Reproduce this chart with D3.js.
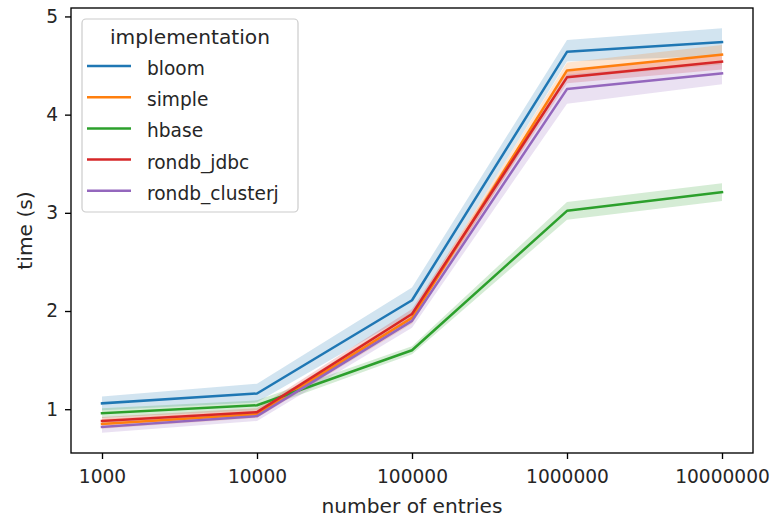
<!DOCTYPE html>
<html>
<head>
<meta charset="utf-8">
<script src="https://cdn.jsdelivr.net/npm/d3@7"></script>
<style>
  body { margin: 0; background: #fff; }
  text { font-family: "DejaVu Sans", sans-serif; fill: #262626; }
</style>
</head>
<body>
<script>
// chart data
var entries = ["1000", "10000", "100000", "1000000", "10000000"];
var implementations = ["bloom", "simple", "hbase", "rondb_jdbc", "rondb_clusterj"];

var bloomMean = [1.06, 1.16, 2.11, 4.64, 4.74];
var bloomLow  = [0.99, 1.07, 1.98, 4.54, 4.60];
var bloomHigh = [1.13, 1.26, 2.24, 4.76, 4.88];

var simpleMean = [0.85, 0.95, 1.93, 4.45, 4.61];
var simpleLow  = [0.80, 0.91, 1.87, 4.37, 4.51];
var simpleHigh = [0.90, 0.99, 1.99, 4.53, 4.71];

var hbaseMean = [0.96, 1.04, 1.60, 3.02, 3.21];
var hbaseLow  = [0.91, 0.99, 1.56, 2.93, 3.12];
var hbaseHigh = [1.01, 1.09, 1.64, 3.11, 3.30];

var jdbcMean = [0.88, 0.97, 1.97, 4.38, 4.54];
var jdbcLow  = [0.84, 0.93, 1.92, 4.32, 4.46];
var jdbcHigh = [0.92, 1.01, 2.02, 4.44, 4.62];

var clusterjMean = [0.82, 0.93, 1.90, 4.26, 4.42];
var clusterjLow  = [0.76, 0.88, 1.83, 4.11, 4.31];
var clusterjHigh = [0.88, 0.98, 1.97, 4.41, 4.54];

var yTicks = [1, 2, 3, 4, 5];

var colors = ["#1f77b4", "#ff7f0e", "#2ca02c", "#d62728", "#9467bd"];

var series = [
  { name: "bloom", mean: bloomMean, low: bloomLow, high: bloomHigh },
  { name: "simple", mean: simpleMean, low: simpleLow, high: simpleHigh },
  { name: "hbase", mean: hbaseMean, low: hbaseLow, high: hbaseHigh },
  { name: "rondb_jdbc", mean: jdbcMean, low: jdbcLow, high: jdbcHigh },
  { name: "rondb_clusterj", mean: clusterjMean, low: clusterjLow, high: clusterjHigh }
];

var w = 774, h = 520;
var margin = { top: 8, right: 21, bottom: 67, left: 71 };
var tickFont = 18.6;   // tick labels and legend entries
var labelFont = 20.2;  // axis labels and legend title

var svg = d3.select("body").append("svg")
    .attr("width", w)
    .attr("height", h);

var x = d3.scalePoint()
    .domain(entries)
    .range([margin.left, w - margin.right])
    .padding(0.2);

// 5% margins like matplotlib
var lo = d3.min(series, function(s) { return d3.min(s.low); });
var hi = d3.max(series, function(s) { return d3.max(s.high); });
var pad = (hi - lo) * 0.05;
var y = d3.scaleLinear()
    .domain([lo - pad, hi + pad])
    .range([h - margin.bottom, margin.top]);

// bands first (they sit under all lines)
var area = d3.area()
    .x(function(d) { return x(d.e); })
    .y0(function(d) { return y(d.lo); })
    .y1(function(d) { return y(d.hi); });

var line = d3.line()
    .x(function(d) { return x(d.e); })
    .y(function(d) { return y(d.v); });

series.forEach(function(s, i) {
    var pts = entries.map(function(e, j) {
        return { e: e, v: s.mean[j], lo: s.low[j], hi: s.high[j] };
    });
    s.pts = pts;
    svg.append("path")
        .datum(pts)
        .attr("d", area)
        .attr("fill", colors[i])
        .attr("fill-opacity", 0.2);
});

series.forEach(function(s, i) {
    svg.append("path")
        .datum(s.pts)
        .attr("d", line)
        .attr("fill", "none")
        .attr("stroke", colors[i])
        .attr("stroke-width", 2.5)
        .attr("stroke-linejoin", "round")
        .attr("stroke-linecap", "square");
});

// axes
var xAxis = svg.append("g")
    .attr("transform", "translate(0," + (h - margin.bottom) + ")")
    .call(d3.axisBottom(x).tickSizeInner(6).tickSizeOuter(0).tickPadding(11));
var yAxis = svg.append("g")
    .attr("transform", "translate(" + margin.left + ",0)")
    .call(d3.axisLeft(y).tickValues(yTicks).tickSizeInner(6).tickSizeOuter(0).tickPadding(7).tickFormat(d3.format("d")));

[xAxis, yAxis].forEach(function(a) {
    a.select(".domain").remove();
    a.selectAll(".tick line").attr("stroke", "#000").attr("stroke-width", 1.35);
    a.selectAll(".tick text")
        .style("font-family", "DejaVu Sans")
        .style("font-size", tickFont + "px")
        .attr("fill", "#262626");
});

// frame
svg.append("rect")
    .attr("x", margin.left)
    .attr("y", margin.top)
    .attr("width", w - margin.left - margin.right)
    .attr("height", h - margin.top - margin.bottom)
    .attr("fill", "none")
    .attr("stroke", "#000")
    .attr("stroke-width", 1.35);

// axis labels
svg.append("text")
    .attr("x", (margin.left + w - margin.right) / 2)
    .attr("y", 513)
    .attr("text-anchor", "middle")
    .style("font-size", labelFont + "px")
    .text("number of entries");

svg.append("text")
    .attr("transform", "translate(32," + ((margin.top + h - margin.bottom) / 2) + ") rotate(-90)")
    .attr("text-anchor", "middle")
    .style("font-size", labelFont + "px")
    .text("time (s)");

// legend
var legend = svg.append("g");
legend.append("rect")
    .attr("x", 82)
    .attr("y", 19)
    .attr("width", 216)
    .attr("height", 193)
    .attr("rx", 4)
    .attr("fill", "#fff")
    .attr("fill-opacity", 0.8)
    .attr("stroke", "#cccccc")
    .attr("stroke-width", 1.2);

legend.append("text")
    .attr("x", 190)
    .attr("y", 44)
    .attr("text-anchor", "middle")
    .style("font-size", labelFont + "px")
    .text("implementation");

implementations.forEach(function(name, i) {
    var ly = 66 + i * 31.2;
    legend.append("line")
        .attr("x1", 87).attr("x2", 131)
        .attr("y1", ly).attr("y2", ly)
        .attr("stroke", colors[i])
        .attr("stroke-width", 2.5);
    legend.append("text")
        .attr("x", 147)
        .attr("y", ly + 9)
        .style("font-size", tickFont + "px")
        .text(name);
});
</script>
</body>
</html>
